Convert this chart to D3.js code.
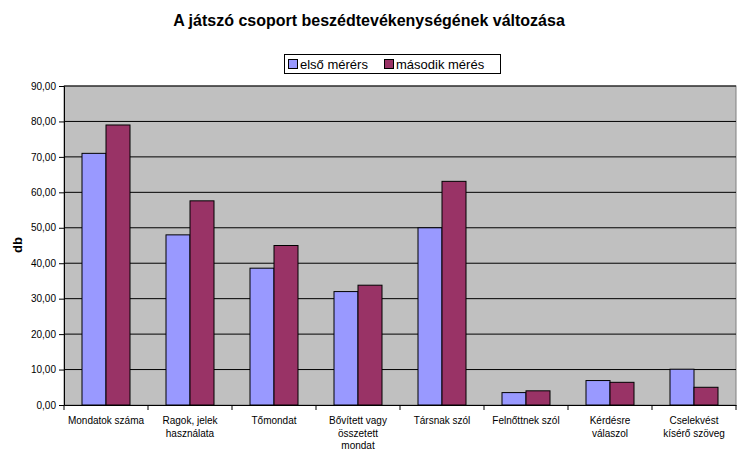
<!DOCTYPE html>
<html><head><meta charset="utf-8">
<script src="https://cdn.jsdelivr.net/npm/d3@7"></script>
<style>body{margin:0;background:#fff}svg{display:block;font-family:Arial,"Liberation Sans",sans-serif}</style>
</head><body><svg id="c" width="737" height="464"></svg>
<script>
const categories = [["Mondatok száma"],["Ragok, jelek","használata"],["Tőmondat"],["Bővített vagy","összetett","mondat"],["Társnak szól"],["Felnőttnek szól"],["Kérdésre","válaszol"],["Cselekvést","kísérő szöveg"]];
const series1 = [71, 48, 38.6, 32, 50, 3.5, 6.9, 10.1];
const series2 = [79, 57.6, 45, 33.8, 63.1, 4, 6.4, 5];
const seriesNames = ["első mérérs", "második mérés"];
const yTicks = [0,10,20,30,40,50,60,70,80,90];
const colors = ["#9999FF", "#993366"];

const svg = d3.select("#c");
const L=64, R=736, T=86, B=405;
const x = d3.scaleBand().domain(d3.range(categories.length)).range([L,R]).paddingInner(0).paddingOuter(0);
const y = d3.scaleLinear().domain([0,90]).range([B,T]);
const inner = d3.scaleBand().domain([0,1]).range([18, x.bandwidth()-18]);

svg.append("rect").attr("x",L).attr("y",T).attr("width",R-L).attr("height",B-T).attr("fill","#C0C0C0").attr("stroke","#808080");
svg.append("g").selectAll("line").data(yTicks.slice(1)).join("line")
  .attr("x1",L).attr("x2",R).attr("y1",d=>y(d)).attr("y2",d=>y(d)).attr("stroke","#000").attr("stroke-width",1);

const data = categories.map((c,i)=>({i, vals:[series1[i], series2[i]]}));
svg.append("g").selectAll("g").data(data).join("g")
  .attr("transform",d=>`translate(${x(d.i)},0)`)
  .selectAll("rect").data(d=>d.vals.map((v,k)=>({v,k}))).join("rect")
  .attr("x",d=>inner(d.k)).attr("width",inner.bandwidth())
  .attr("y",d=>y(d.v)).attr("height",d=>B-y(d.v))
  .attr("fill",d=>colors[d.k]).attr("stroke","#000").attr("stroke-width",1);

const yAxis = svg.append("g").attr("transform",`translate(${L},0)`)
  .call(d3.axisLeft(y).tickValues(yTicks).tickSize(5).tickFormat(d=>d3.format(".2f")(d).replace(".",",")));
yAxis.select(".domain").attr("stroke","#000");
yAxis.selectAll("text").attr("font-size","10px").attr("fill","#000").attr("font-family","Arial, 'Liberation Sans', sans-serif");

const xAxis = svg.append("g").attr("transform",`translate(0,${B})`)
  .call(d3.axisBottom(x).tickValues([]).tickSizeOuter(0));
xAxis.select(".domain").attr("stroke","#000");
svg.append("g").selectAll("line").data(d3.range(categories.length+1)).join("line")
  .attr("x1",d=>L+d*x.bandwidth()).attr("x2",d=>L+d*x.bandwidth()).attr("y1",B).attr("y2",B+5).attr("stroke","#000");

svg.append("g").selectAll("text").data(categories).join("text")
  .attr("x",(d,i)=>x(i)+x.bandwidth()/2).attr("y",424).attr("text-anchor","middle")
  .attr("font-size","10px").attr("fill","#000")
  .selectAll("tspan").data(d=>d).join("tspan")
  .attr("x",function(){return this.parentNode.getAttribute("x");}).attr("dy",(d,j)=>j?12.5:0).text(d=>d);

svg.append("text").attr("x",369).attr("y",26).attr("text-anchor","middle").attr("font-weight","bold").attr("font-size","16px").text("A játszó csoport beszédtevékenységének változása");
svg.append("text").attr("transform","translate(22,245) rotate(-90)").attr("text-anchor","middle").attr("font-weight","bold").attr("font-size","13px").text("db");

const lg = svg.append("g");
lg.append("rect").attr("x",284.5).attr("y",54.5).attr("width",216).attr("height",19).attr("fill","#fff").attr("stroke","#000");
const lx=[288, 384];
seriesNames.forEach((n,k)=>{
  lg.append("rect").attr("x",lx[k]+0.5).attr("y",59.5).attr("width",9).attr("height",9).attr("fill",colors[k]).attr("stroke","#000");
  lg.append("text").attr("x",lx[k]+12).attr("y",69).attr("font-size","13px").text(n);
});
</script></body></html>
